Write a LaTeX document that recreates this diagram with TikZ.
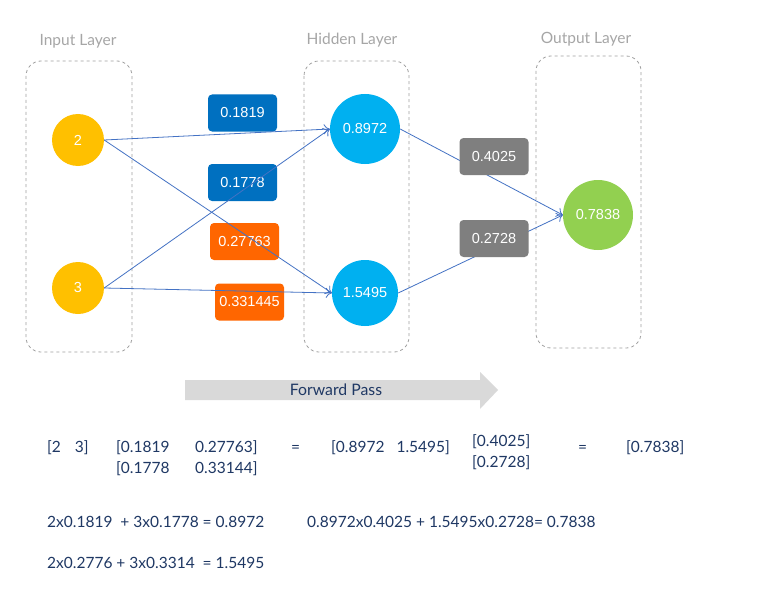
\documentclass[tikz,border=0pt]{standalone}
\usepackage{fontspec}
\setmainfont{Lato}
\newfontfamily\arialf{Liberation Sans}
\usetikzlibrary{arrows.meta}
\definecolor{ttl}{HTML}{A6A6A6}
\definecolor{dashc}{HTML}{A0A0A0}
\definecolor{inc}{HTML}{FFC000}
\definecolor{hidc}{HTML}{00B0F0}
\definecolor{outc}{HTML}{92D050}
\definecolor{bluew}{HTML}{0070C0}
\definecolor{orw}{HTML}{FF6600}
\definecolor{grw}{HTML}{7F7F7F}
\definecolor{linec}{HTML}{4472C4}
\definecolor{navy}{HTML}{1F3864}
\definecolor{fwd}{HTML}{D9D9D9}
\tikzset{
  layerbox/.style={draw=dashc, dashed, rounded corners=15pt, line width=0.8pt},
  ttlt/.style={text=ttl, font=\fontsize{15.5}{17}\selectfont},
  neuron/.style={circle, draw=none, inner sep=0pt, text=white, font=\arialf\fontsize{14.5}{16}\selectfont},
  wbox/.style={rounded corners=4pt, draw=none, text=white, minimum width=69pt, minimum height=37pt, inner sep=0pt, font=\arialf\fontsize{14.5}{16}\selectfont},
  conn/.style={draw=linec, line width=0.8pt, -{To[length=6pt,width=10pt]}},
  eqt/.style={text=navy, anchor=base west, inner sep=0pt, font=\fontsize{15.5}{17}\selectfont},
}
\begin{document}
\begin{tikzpicture}[x=1pt,y=-1pt]
\useasboundingbox (0,0) rectangle (773,591);
\fill[white] (0,0) rectangle (773,591);
% layer boxes
\draw[layerbox] (26,61) rectangle (132,352);
\draw[layerbox] (304,61) rectangle (409,352);
\draw[layerbox] (536,56) rectangle (641,348);
\node[ttlt] (t1) at (78,41) {Input Layer};
\node[ttlt] (t2) at (352,40) {Hidden Layer};
\node[ttlt] (t3) at (586,39) {Output Layer};
% neurons
\node[neuron, fill=inc, minimum size=52pt] (i1) at (78,140) {2};
\node[neuron, fill=inc, minimum size=52pt] (i2) at (78,288) {3};
\node[neuron, fill=hidc, minimum size=70pt] (h1) at (365,129) {0.8972};
\node[neuron, fill=hidc, minimum size=66pt] (h2) at (365,293) {1.5495};
\node[neuron, fill=outc, minimum size=70pt] (o1) at (598,215) {0.7838};
% first layer weights (below lines)
\node[wbox, fill=bluew] (w1) at (242.5,113) {0.1819};
\node[wbox, fill=bluew] (w2) at (242.5,182.5) {0.1778};
\node[wbox, fill=orw] (w3) at (244.5,241.5) {0.27763};
\node[wbox, fill=orw] (w4) at (249.5,302) {0.331445};
% connectors
\draw[conn] (i1.east) -- (h1.west);
\draw[conn] (i1.east) -- (h2.west);
\draw[conn] (i2.east) -- (h1.west);
\draw[conn] (i2.east) -- (h2.west);
\draw[conn] (h1.east) -- (o1.west);
\draw[conn] (h2.east) -- (o1.west);
% second layer weights (above lines)
\node[wbox, fill=grw] (w5) at (494,156.5) {0.4025};
\node[wbox, fill=grw] (w6) at (494,238.5) {0.2728};
% forward pass arrow
\fill[fwd] (185,380) -- (480,380) -- (480,372) -- (498,390) -- (480,409) -- (480,400) -- (185,400) -- cycle;
\node[text=navy, font=\fontsize{15.8}{17}\selectfont] (fp) at (336,390) {Forward Pass};
% matrices
\node[eqt] (m1) at (47,452) {[2\hspace{14pt}3]};
\node[eqt] (m2) at (116,452) {[0.1819};
\node[eqt] (m3) at (195,452) {0.27763]};
\node[eqt] (m4) at (116,473) {[0.1778};
\node[eqt] (m5) at (195,473) {0.33144]};
\node[eqt] (eq1) at (291,452) {=};
\node[eqt] (m6) at (331,452) {[0.8972\hspace{12pt}1.5495]};
\node[eqt] (m7) at (472,446) {[0.4025]};
\node[eqt] (m8) at (472,467) {[0.2728]};
\node[eqt] (eq2) at (578,452) {=};
\node[eqt] (m9) at (626,452) {[0.7838]};
% equations
\node[eqt] (e1) at (47,527) {2x0.1819\hspace{4pt} + 3x0.1778 = 0.8972};
\node[eqt] (e2) at (307,527) {0.8972x0.4025 + 1.5495x0.2728= 0.7838};
\node[eqt] (e3) at (47,568) {2x0.2776 + 3x0.3314\hspace{4pt} = 1.5495};
\end{tikzpicture}
\end{document}
